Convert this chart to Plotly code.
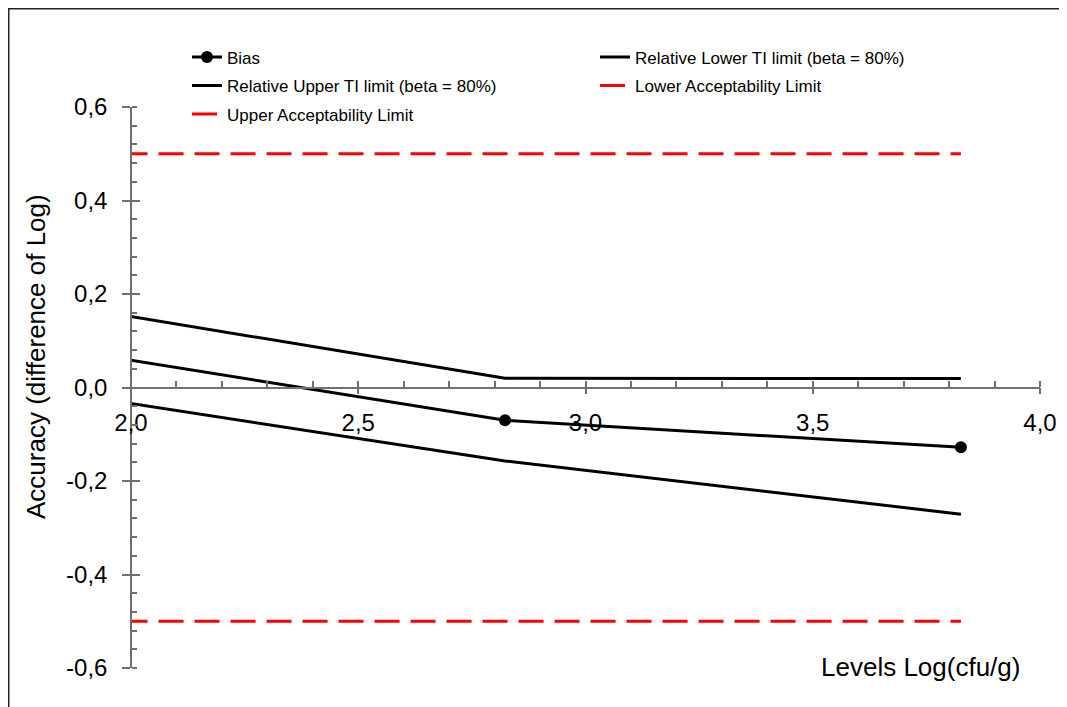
import plotly.graph_objects as go

# ---- data ----
levels = [1.823, 2.823, 3.826]
bias = [0.086, -0.070, -0.128]
upper_ti = [0.180, 0.020, 0.019]
lower_ti = [-0.008, -0.157, -0.271]
upper_acc = [0.5, 0.5, 0.5]
lower_acc = [-0.5, -0.5, -0.5]

x_tickvals = [2.0, 2.5, 3.0, 3.5, 4.0]
x_ticktext = ["2,0", "2,5", "3,0", "3,5", "4,0"]
y_tickvals = [-0.6, -0.4, -0.2, 0.0, 0.2, 0.4, 0.6]
y_ticktext = ["-0,6", "-0,4", "-0,2", "0,0", "0,2", "0,4", "0,6"]

FONT = "Liberation Sans, Arial, sans-serif"
AXC = "#707070"

fig = go.Figure()

fig.add_trace(go.Scatter(x=levels, y=bias, mode="lines+markers", name="Bias",
                         line=dict(color="black", width=3),
                         marker=dict(color="black", size=12),
                         legend="legend", legendgroup="g1"))
fig.add_trace(go.Scatter(x=levels, y=upper_ti, mode="lines",
                         name="Relative Upper TI limit (beta = 80%)",
                         line=dict(color="black", width=3),
                         legend="legend", legendgroup="g2"))
fig.add_trace(go.Scatter(x=levels, y=upper_acc, mode="lines",
                         name="Upper Acceptability Limit",
                         line=dict(color="#ff0000", width=3, dash="25px,11px"),
                         legend="legend", legendgroup="g3"))
fig.add_trace(go.Scatter(x=levels, y=lower_ti, mode="lines",
                         name="Relative Lower TI limit (beta = 80%)",
                         line=dict(color="black", width=3),
                         legend="legend2", legendgroup="g4"))
fig.add_trace(go.Scatter(x=levels, y=lower_acc, mode="lines",
                         name="Lower Acceptability Limit",
                         line=dict(color="#ff0000", width=3, dash="25px,11px"),
                         legend="legend2", legendgroup="g5"))
# empty trace to activate the overlay axes (inner halves of major ticks)
fig.add_trace(go.Scatter(x=[], y=[], xaxis="x2", yaxis="y2", showlegend=False,
                         hoverinfo="skip"))

# page has an 8px body margin: figure coords = page coords - 8
OFF = 8
W, H = 1067 - OFF, 707 - OFF
PL, PR, PT, PB = 131, 1040, 107, 668          # plot area in page pixels
L, R, T, B = PL - OFF, W - (PR - OFF), PT - OFF, H - (PB - OFF)
pw, ph = W - L - R, H - T - B

def px_x(p):
    return (p - OFF - L) / pw

def px_y(p):
    return (H - B - (p - OFF)) / ph

fig.update_layout(
    width=W, height=H,
    margin=dict(l=L, r=R, t=T, b=B),
    paper_bgcolor="white", plot_bgcolor="white",
    separators=", ",
    font=dict(family=FONT, color="black", size=24),
    showlegend=True,
    xaxis=dict(range=[2.0, 4.0], anchor="free", position=0.5,
               showline=True, linecolor=AXC, linewidth=1.5,
               showgrid=False, zeroline=False,
               tickmode="array", tickvals=x_tickvals, ticktext=x_ticktext,
               ticks="outside", ticklen=6, tickcolor=AXC, tickwidth=1.5,
               ticklabelstandoff=8,
               tickfont=dict(size=24, family=FONT, color="black"),
               minor=dict(ticks="inside", dtick=0.1, tick0=2.0, ticklen=6,
                          tickcolor=AXC, tickwidth=1.5, showgrid=False),
               automargin=False),
    xaxis2=dict(range=[2.0, 4.0], overlaying="x", anchor="free", position=0.5,
                showline=False, showgrid=False, zeroline=False,
                tickmode="array", tickvals=x_tickvals, showticklabels=False,
                ticks="inside", ticklen=6, tickcolor=AXC, tickwidth=1.5,
                automargin=False),
    yaxis=dict(range=[-0.6, 0.6], anchor="free", position=0,
               showline=True, linecolor=AXC, linewidth=1.5,
               showgrid=False, zeroline=False,
               tickmode="array", tickvals=y_tickvals, ticktext=y_ticktext,
               ticks="outside", ticklen=8, tickcolor=AXC, tickwidth=1.5,
               ticklabelstandoff=10,
               tickfont=dict(size=24, family=FONT, color="black"),
               minor=dict(ticks="inside", dtick=0.04, tick0=-0.6, ticklen=5,
                          tickcolor=AXC, tickwidth=1.5, showgrid=False),
               automargin=False),
    yaxis2=dict(range=[-0.6, 0.6], overlaying="y", anchor="free", position=0,
                side="left",
                showline=False, showgrid=False, zeroline=False,
                tickmode="array", tickvals=y_tickvals, showticklabels=False,
                ticks="inside", ticklen=8, tickcolor=AXC, tickwidth=1.5,
                automargin=False),
    legend=dict(x=px_x(187), y=px_y(39.5), xanchor="left", yanchor="top",
                orientation="v", bgcolor="rgba(0,0,0,0)", borderwidth=0,
                tracegroupgap=3.4, font=dict(size=17, family=FONT, color="black")),
    legend2=dict(x=px_x(595), y=px_y(39.5), xanchor="left", yanchor="top",
                 orientation="v", bgcolor="rgba(0,0,0,0)", borderwidth=0,
                 tracegroupgap=3.4, font=dict(size=17, family=FONT, color="black")),
    annotations=[
        dict(text="Levels Log(cfu/g)", xref="paper", yref="paper",
             x=px_x(920), y=px_y(667), xanchor="center", yanchor="middle",
             showarrow=False, font=dict(size=26, family=FONT, color="black")),
        dict(text="Accuracy (difference of Log)", xref="paper", yref="paper",
             x=px_x(36), y=px_y(357), xanchor="center", yanchor="middle",
             textangle=-90, showarrow=False,
             font=dict(size=26, family=FONT, color="black")),
    ],
    shapes=[dict(type="rect", xref="paper", yref="paper",
                 x0=px_x(OFF + 0.75), x1=px_x(1090), y0=px_y(730),
                 y1=px_y(OFF + 0.75),
                 line=dict(color="#222222", width=1.5), fillcolor="rgba(0,0,0,0)",
                 layer="below")],
)

fig.write_html("out.html")
